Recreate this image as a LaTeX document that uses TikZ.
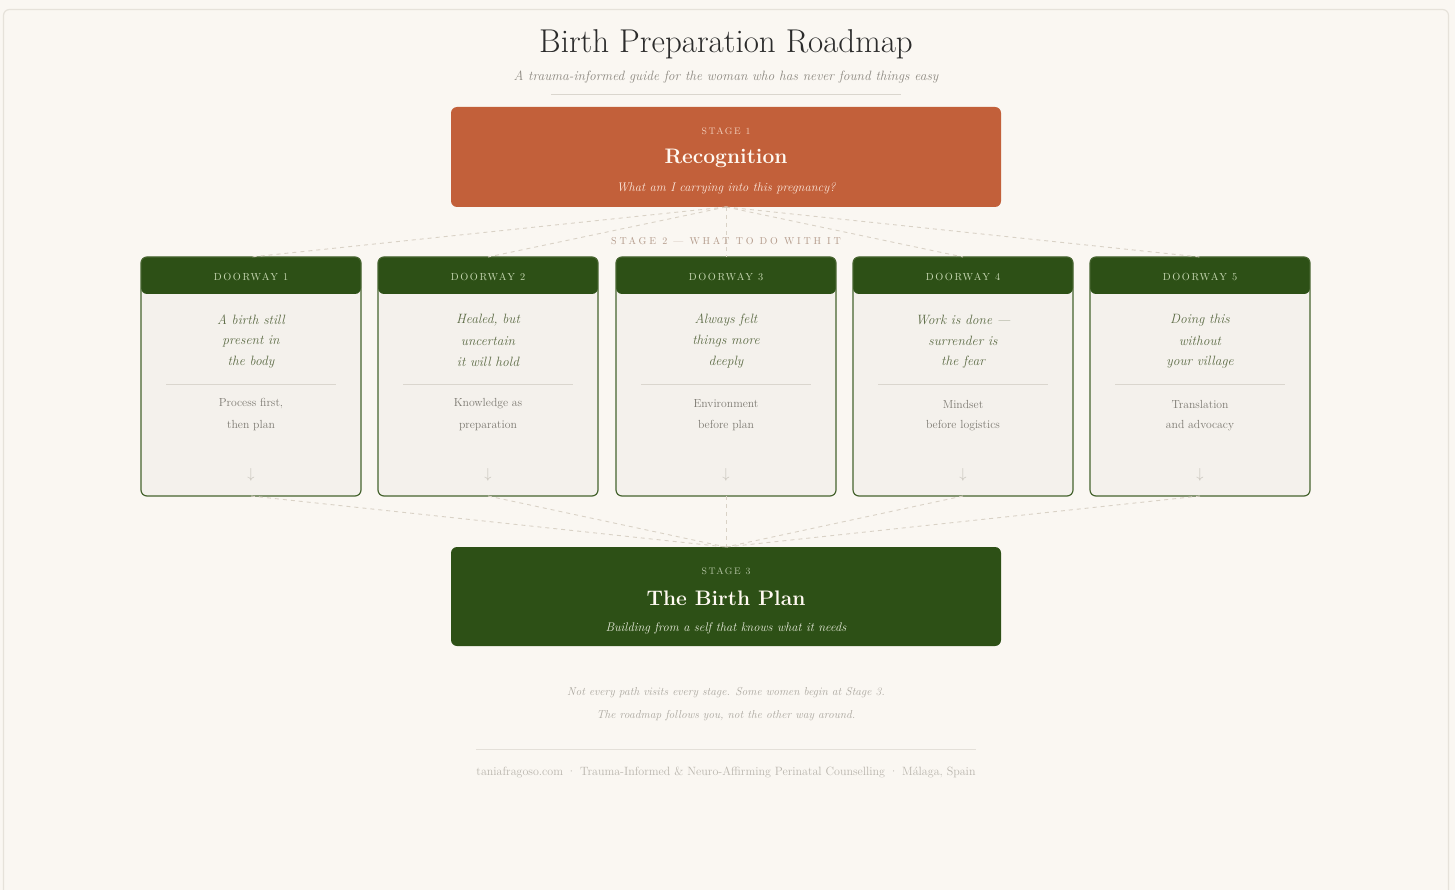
\documentclass[tikz,border=0pt]{standalone}
\usepackage{fontspec}
\setmainfont{Latin Modern Roman}
\newfontfamily\spacedfont[LetterSpace=16]{Latin Modern Roman}
\newfontfamily\widefont[LetterSpace=28]{Latin Modern Roman}
\definecolor{pagebg}{HTML}{FAF7F2}
\definecolor{framec}{HTML}{E6E2DA}
\definecolor{rust}{HTML}{C2603A}
\definecolor{forest}{HTML}{2D5016}
\definecolor{doorline}{HTML}{46642F}
\definecolor{doorbg}{HTML}{F4F1EC}
\definecolor{headtxt}{HTML}{C5D6B0}
\definecolor{olive}{HTML}{5C6B45}
\definecolor{bodytxt}{HTML}{7D7A72}
\definecolor{arrowc}{HTML}{C6C2B9}
\definecolor{sepc}{HTML}{DAD6CE}
\definecolor{dashc}{HTML}{D9D2C6}
\definecolor{rosec}{HTML}{B39A8A}
\definecolor{titlec}{HTML}{2B2B2B}
\definecolor{subc}{HTML}{8C8880}
\definecolor{footc}{HTML}{ABA79F}
\definecolor{footc2}{HTML}{B9B5AD}
\definecolor{rustlab}{HTML}{F2CDBA}
\definecolor{rustit}{HTML}{FBE6DA}
\definecolor{greenlab}{HTML}{B5C5A5}
\definecolor{greenit}{HTML}{E4E8D8}
\definecolor{creamc}{HTML}{FFF9F1}
\begin{document}
\begin{tikzpicture}[x=1pt,y=-1pt,
  every node/.style={inner sep=0pt, outer sep=0pt, align=center},
  conn/.style={draw=dashc, line width=0.9pt, dash pattern=on 4pt off 4pt},
  stagebox/.style={rectangle, rounded corners=6pt, minimum width=550pt, minimum height=100pt},
  doorbox/.style={rectangle, rounded corners=6pt, minimum width=220pt, minimum height=239pt,
    fill=doorbg, draw=doorline, line width=1.2pt,
    path picture={\fill[forest] ([yshift=2pt]path picture bounding box.north west) rectangle ([yshift=-37pt]path picture bounding box.north east);}},
  stagelab/.style={font=\spacedfont\fontsize{9.5}{11}\selectfont},
  stagetitle/.style={font=\bfseries\fontsize{21}{24}\selectfont, text=creamc},
  stageit/.style={font=\itshape\fontsize{12.5}{15}\selectfont},
  doorhead/.style={font=\spacedfont\fontsize{10.3}{12}\selectfont, text=headtxt},
  doorq/.style={font=\itshape\fontsize{13.5}{21}\selectfont, text=olive},
  doora/.style={font=\fontsize{11.7}{22}\selectfont, text=bodytxt},
  doorarrow/.style={font=\fontsize{14}{16}\selectfont, text=arrowc},
  sepline/.style={draw=sepc, line width=0.8pt},
  footit/.style={font=\itshape\fontsize{11.5}{23}\selectfont, text=footc},
  foot/.style={font=\fontsize{12}{14}\selectfont, text=footc2}
]
\useasboundingbox (0,0) rectangle (1455,890);
\fill[pagebg] (0,0) rectangle (1455,890);
\draw[framec, line width=1.2pt, rounded corners=6pt] (3.5,9.5) rectangle (1448.5,905);

% title
\node[font=\fontsize{33}{38}\selectfont, text=titlec] (title) at (726,44) {Birth Preparation Roadmap};
\node[font=\itshape\fontsize{13.5}{16}\selectfont, text=subc] (subtitle) at (726,77) {A trauma-informed guide for the woman who has never found things easy};
\draw[sepc, line width=0.8pt] (551,94) -- (901,94);

% stage 1
\node[stagebox, fill=rust] (s1) at (726,157) {};
\node[stagelab, text=rustlab] (s1lab) at (726,131) {STAGE 1};
\node[stagetitle] (s1title) at (726,158) {Recognition};
\node[stageit, text=rustit] (s1it) at (726,188) {What am I carrying into this pregnancy?};

% stage 3
\node[stagebox, fill=forest, minimum height=99pt] (s3) at (726,596.5) {};
\node[stagelab, text=greenlab] (s3lab) at (726,571) {STAGE 3};
\node[stagetitle] (s3title) at (726,598) {The Birth Plan};
\node[stageit, text=greenit] (s3it) at (726,628) {Building from a self that knows what it needs};

% doorways
\foreach \i/\cx/\qa/\qb/\qc/\aa/\ab in {
  1/251/{A birth still}/{present in}/{the body}/{Process first,}/{then plan},
  2/488/{Healed, but}/{uncertain}/{it will hold}/{Knowledge as}/{preparation},
  3/726/{Always felt}/{things more}/{deeply}/{Environment}/{before plan},
  4/963/{Work is done —}/{surrender is}/{the fear}/{Mindset}/{before logistics},
  5/1200/{Doing this}/{without}/{your village}/{Translation}/{and advocacy}}{
  \node[doorbox] (d\i) at (\cx,376.5) {};
  \node[doorhead] (d\i h) at (\cx,277) {DOORWAY \i};
  \node[doorq] (d\i q1) at (\cx,320) {\qa};
  \node[doorq] (d\i q2) at (\cx,341) {\qb};
  \node[doorq] (d\i q3) at (\cx,362) {\qc};
  \draw[sepline] (\cx-85,384) -- (\cx+85,384);
  \node[doora] (d\i a1) at (\cx,404) {\aa};
  \node[doora] (d\i a2) at (\cx,426) {\ab};
  \node[doorarrow] (d\i arr) at (\cx,475) {$\downarrow$};
  \draw[conn] (s1.south) -- (d\i.north);
  \draw[conn] (d\i.south) -- (s3.north);
}

\node[font=\widefont\fontsize{10}{12}\selectfont, text=rosec] (s2lab) at (726,241) {STAGE 2 — WHAT TO DO WITH IT};

% footer
\node[footit] (note1) at (726,693) {Not every path visits every stage. Some women begin at Stage 3.};
\node[footit] (note2) at (726,716) {The roadmap follows you, not the other way around.};
\draw[sepc!70!pagebg, line width=0.8pt] (476,749) -- (976,749);
\node[foot] (credit) at (726,772) {taniafragoso.com · Trauma-Informed \& Neuro-Affirming Perinatal Counselling · Málaga, Spain};
\end{tikzpicture}
\end{document}
